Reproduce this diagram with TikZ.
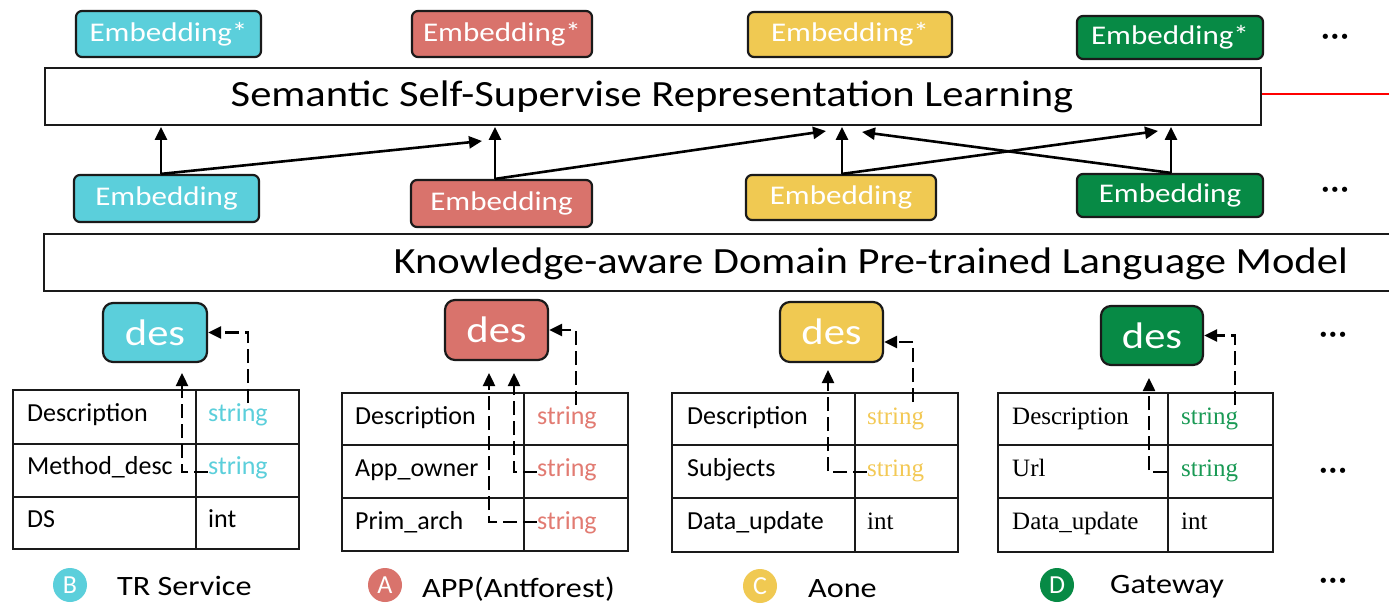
\documentclass[tikz,border=0pt]{standalone}
\usepackage{fontspec}
\setmainfont{Carlito}
\newfontfamily\calw[FakeStretch=1.15]{Carlito}
\newfontfamily\tms{Liberation Serif}
\newfontfamily\dv{DejaVu Sans}
\usetikzlibrary{arrows.meta}
\definecolor{cyanF}{HTML}{5BCFDB}
\definecolor{redF}{HTML}{D9736C}
\definecolor{yelF}{HTML}{F0C952}
\definecolor{grnF}{HTML}{078A45}
\definecolor{cyanT}{HTML}{5BCFDB}
\definecolor{redT}{HTML}{E27B72}
\definecolor{yelT}{HTML}{F3C955}
\definecolor{grnT}{HTML}{1A9A55}
\definecolor{edge}{HTML}{1A1A1A}
\newcommand\fsz[1]{\fontsize{#1}{#1}\selectfont}
\tikzset{
  emb/.style={draw=edge, line width=2.2pt, rounded corners=6pt, text=white, font=\calw\fsz{27}, inner sep=0pt},
  desbox/.style={draw=edge, line width=2.2pt, rounded corners=10pt, text=white, font=\calw\fsz{37}, inner sep=0pt},
  bigbox/.style={draw=edge, line width=2.2pt, inner sep=0pt},
  arr/.style={line width=2.6pt, -{Triangle[length=13pt,width=12pt]}},
  dasharr/.style={line width=2.4pt, dash pattern=on 14pt off 6pt, -{Triangle[length=13pt,width=12pt]}},
  tbl/.style={line width=2.2pt, draw=edge},
  cell/.style={anchor=base west, font=\fsz{26}, inner sep=0pt},
  scell/.style={anchor=base west, font=\tms\fsz{25}, inner sep=0pt},
  legc/.style={circle, minimum size=34pt, inner sep=0pt, text=white, font=\fsz{26}},
  legt/.style={anchor=base west, font=\calw\fsz{28}, inner sep=0pt},
  dots/.style={font=\dv\fsz{18}, inner sep=0pt}
}
\begin{document}
\begin{tikzpicture}[x=1pt,y=-1pt]
\useasboundingbox (0,0) rectangle (1389,604);
\fill[white] (0,0) rectangle (1389,604);

% top Embedding* row
\node[emb, fill=cyanF, minimum width=185pt, minimum height=46pt] (t1) at (168.5,34) {Embedding*};
\node[emb, fill=redF, minimum width=180pt, minimum height=46pt] (t2) at (502,34) {Embedding*};
\node[emb, fill=yelF, minimum width=204pt, minimum height=45pt] (t3) at (850,34.5) {Embedding*};
\node[emb, fill=grnF, minimum width=186pt, minimum height=43pt] (t4) at (1170,37.5) {Embedding*};
\node[dots] (dt) at (1335,39) {•\kern-1pt•\kern-1pt•};

% semantic box
\node[bigbox, minimum width=1216pt, minimum height=57pt] (sem) at (653,96.5) {};
\node[font=\calw\fsz{37}, inner sep=0pt] (semt) at (652,97) {Semantic Self-Supervise Representation Learning};
\coordinate (redend) at (1392,94);
\draw[red, line width=1.4pt] (sem.east |- redend) -- (redend);

% bottom Embedding row
\node[emb, fill=cyanF, minimum width=185pt, minimum height=47pt] (b1) at (166.5,198.5) {Embedding};
\node[emb, fill=redF, minimum width=181pt, minimum height=47pt] (b2) at (501.5,203.5) {Embedding};
\node[emb, fill=yelF, minimum width=190pt, minimum height=45pt] (b3) at (841,197.5) {Embedding};
\node[emb, fill=grnF, minimum width=186pt, minimum height=43pt] (b4) at (1170,195.5) {Embedding};
\node[dots] (db) at (1335,192) {•\kern-1pt•\kern-1pt•};

% arrows between embeddings and semantic box
\coordinate (a1) at (161,127);
\coordinate (a2) at (495,127);
\coordinate (a3) at (842,127);
\coordinate (a4) at (1171,127);
\coordinate (d1) at (482,141);
\coordinate (d2) at (826,131);
\coordinate (d3) at (1158,131);
\coordinate (d4) at (862,132);
\draw[arr] (b1.north -| a1) -- (a1);
\draw[arr] (b1.north -| a1) -- (d1);
\draw[arr] (b2.north -| a2) -- (a2);
\draw[arr] (b2.north -| a2) -- (d2);
\draw[arr] (b3.north -| a3) -- (a3);
\draw[arr] (b3.north -| a3) -- (d3);
\draw[arr] (b4.north -| a4) -- (a4);
\draw[arr] (b4.north -| a4) -- (d4);

% knowledge box
\draw[tbl] (1395,234) -- (44,234) -- (44,291) -- (1395,291);
\node[font=\calw\fsz{37}, inner sep=0pt, anchor=east] (kmt) at (1348,264) {Knowledge-aware Domain Pre-trained Language Model};

% des boxes
\node[desbox, fill=cyanF, minimum width=104pt, minimum height=59pt] (desB) at (155,332.5) {des};
\node[desbox, fill=redF, minimum width=103pt, minimum height=60pt] (desA) at (496.5,330) {des};
\node[desbox, fill=yelF, minimum width=103pt, minimum height=60pt] (desC) at (831.5,332) {des};
\node[desbox, fill=grnF, minimum width=102pt, minimum height=59pt] (desD) at (1152,335.5) {des};
\node[dots] (dd) at (1333,337) {•\kern-1pt•\kern-1pt•};
\node[dots] (dm) at (1333,473) {•\kern-1pt•\kern-1pt•};
\node[dots] (dl) at (1333,583) {•\kern-1pt•\kern-1pt•};

% table B
\draw[tbl] (13,390) rectangle (299,549);
\draw[tbl] (196,390) -- (196,549) (13,444) -- (299,444) (13,497) -- (299,497);
\node[cell] (B11) at (27,421) {Description};
\node[cell] (B21) at (27,474) {Method\_desc};
\node[cell] (B31) at (27,527) {DS};
\node[cell, text=cyanT] (B12) at (208,421) {string};
\node[cell, text=cyanT] (B22) at (208,474) {string};
\node[cell] (B32) at (208,527) {int};

% table A
\draw[tbl] (342,393) rectangle (628,551);
\draw[tbl] (524,393) -- (524,551) (342,445) -- (628,445) (342,498) -- (628,498);
\node[cell] (A11) at (355,424) {Description};
\node[cell] (A21) at (355,476) {App\_owner};
\node[cell] (A31) at (355,529) {Prim\_arch};
\node[cell, text=redT] (A12) at (537,424) {string};
\node[cell, text=redT] (A22) at (537,476) {string};
\node[cell, text=redT] (A32) at (537,529) {string};

% table C
\draw[tbl] (672,393) rectangle (958,552);
\draw[tbl] (855,393) -- (855,552) (672,445) -- (958,445) (672,498) -- (958,498);
\node[cell] (C11) at (687,424) {Description};
\node[cell] (C21) at (687,476) {Subjects};
\node[cell] (C31) at (687,529) {Data\_update};
\node[scell, text=yelT] (C12) at (867,424) {string};
\node[scell, text=yelT] (C22) at (867,476) {string};
\node[scell] (C32) at (867,529) {int};

% table D
\draw[tbl] (998,393) rectangle (1273,552);
\draw[tbl] (1168,393) -- (1168,552) (998,445) -- (1273,445) (998,498) -- (1273,498);
\node[scell] (D11) at (1012,424) {Description};
\node[scell] (D21) at (1012,476) {Url};
\node[scell] (D31) at (1012,529) {Data\_update};
\node[scell, text=grnT] (D12) at (1181,424) {string};
\node[scell, text=grnT] (D22) at (1181,476) {string};
\node[scell] (D32) at (1181,529) {int};

% dashed arrows
\coordinate (tB) at (182,373);
\coordinate (tA1) at (514,373);
\coordinate (tA2) at (489,373);
\coordinate (tC) at (828,370);
\coordinate (tD) at (1149,378);
\draw[dasharr] (248,403) |- (desB.east);
\draw[dasharr] (B22.west |- 0,472) -| (tB);
\draw[dasharr] (576,405) |- (desA.east);
\draw[dasharr] (A22.west |- 0,472) -| (tA1);
\draw[dasharr] (A32.west |- 0,522) -| (tA2);
\draw[dasharr] (913,402) |- ([yshift=-10pt]desC.east);
\draw[dasharr] (C22.west |- 0,472) -| (tC);
\draw[dasharr] (1235,405) |- (desD.east);
\draw[dasharr] (1167,472) -| (tD);

% legend
\node[legc, fill=cyanF] (cB) at (70,585) {B};
\node[legt] (lB) at (117,595) {TR Service};
\node[legc, fill=redF] (cA) at (385,585) {A};
\node[legt] (lA) at (422,597) {APP(Antforest)};
\node[legc, fill=yelF] (cC) at (760,586) {C};
\node[legt] (lC) at (808,597) {Aone};
\node[legc, fill=grnF] (cD) at (1057,585) {D};
\node[legt] (lD) at (1110,593) {Gateway};
\end{tikzpicture}
\end{document}
